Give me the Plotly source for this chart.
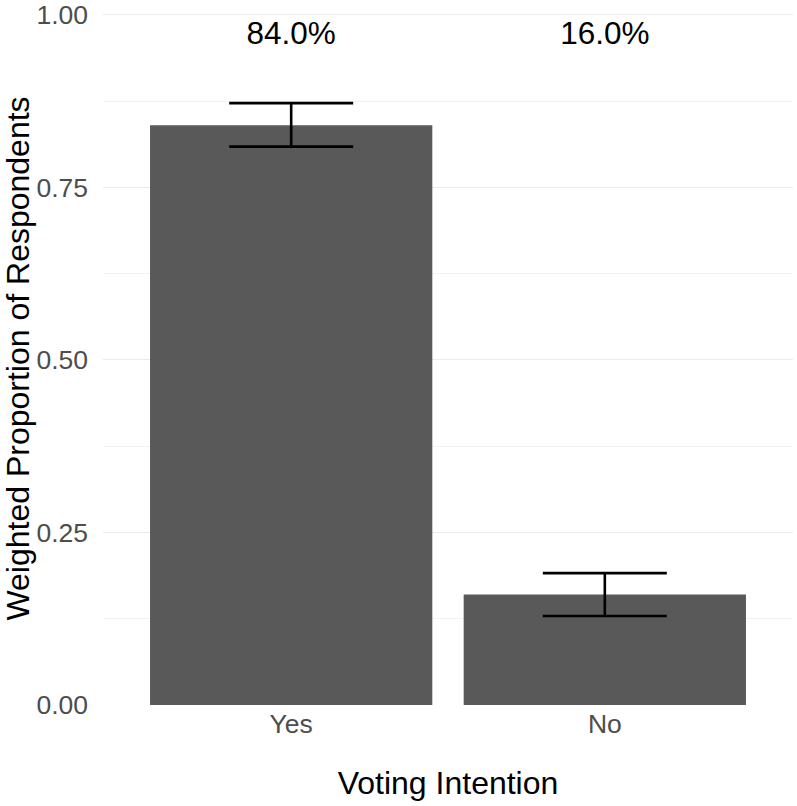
import plotly.graph_objects as go

categories = ["Yes", "No"]
proportions = [0.840, 0.160]
err_upper = [0.032, 0.031]
err_lower = [0.031, 0.031]
labels = ["84.0%", "16.0%"]
label_y = [0.969, 0.969]

y_tickvals = [0, 0.25, 0.5, 0.75, 1.0]
y_ticktext = ["0.00", "0.25", "0.50", "0.75", "1.00"]

FONT = "Liberation Sans, Arial, sans-serif"

fig = go.Figure()
fig.add_trace(go.Bar(
    x=categories, y=proportions,
    marker=dict(color="#595959", line=dict(width=0)),
    error_y=dict(type="data", symmetric=False, array=err_upper, arrayminus=err_lower,
                 color="black", thickness=2.6, width=62),
    showlegend=False, hoverinfo="skip",
))
fig.add_trace(go.Scatter(
    x=categories, y=label_y, mode="text", text=labels,
    textposition="middle center",
    textfont=dict(family=FONT, size=31.5, color="black"),
    showlegend=False, hoverinfo="skip", cliponaxis=False,
))

fig.update_layout(
    width=797, height=806,
    margin=dict(l=103, r=4, t=12, b=101, autoexpand=False),
    plot_bgcolor="white", paper_bgcolor="white",
    bargap=0.1,
    font=dict(family=FONT),
    xaxis=dict(
        range=[-0.6, 1.6], showgrid=False, zeroline=False, showline=False,
        ticks="", tickfont=dict(size=26.5, color="#4D4D4D"), automargin=False,
        ticklabelstandoff=0,
        title=dict(text="Voting Intention", font=dict(size=32, color="black"), standoff=34),
    ),
    yaxis=dict(
        range=[0, 1.004], tickvals=y_tickvals, ticktext=y_ticktext,
        showgrid=True, gridcolor="#EBEBEB", gridwidth=1.1,
        zeroline=False, showline=False, ticks="", automargin=False,
        ticklabelstandoff=14, ticklabeloverflow="allow",
        tickfont=dict(size=26.5, color="#4D4D4D"),
        minor=dict(tickvals=[0.125, 0.375, 0.625, 0.875], showgrid=True,
                   gridcolor="#F2F2F2", gridwidth=0.8),
        title=dict(text="Weighted Proportion of Respondents", font=dict(size=32, color="black"), standoff=19),
    ),
)

fig.write_html("out.html", config={"displayModeBar": False},
               post_script="document.body.style.margin='0';")
